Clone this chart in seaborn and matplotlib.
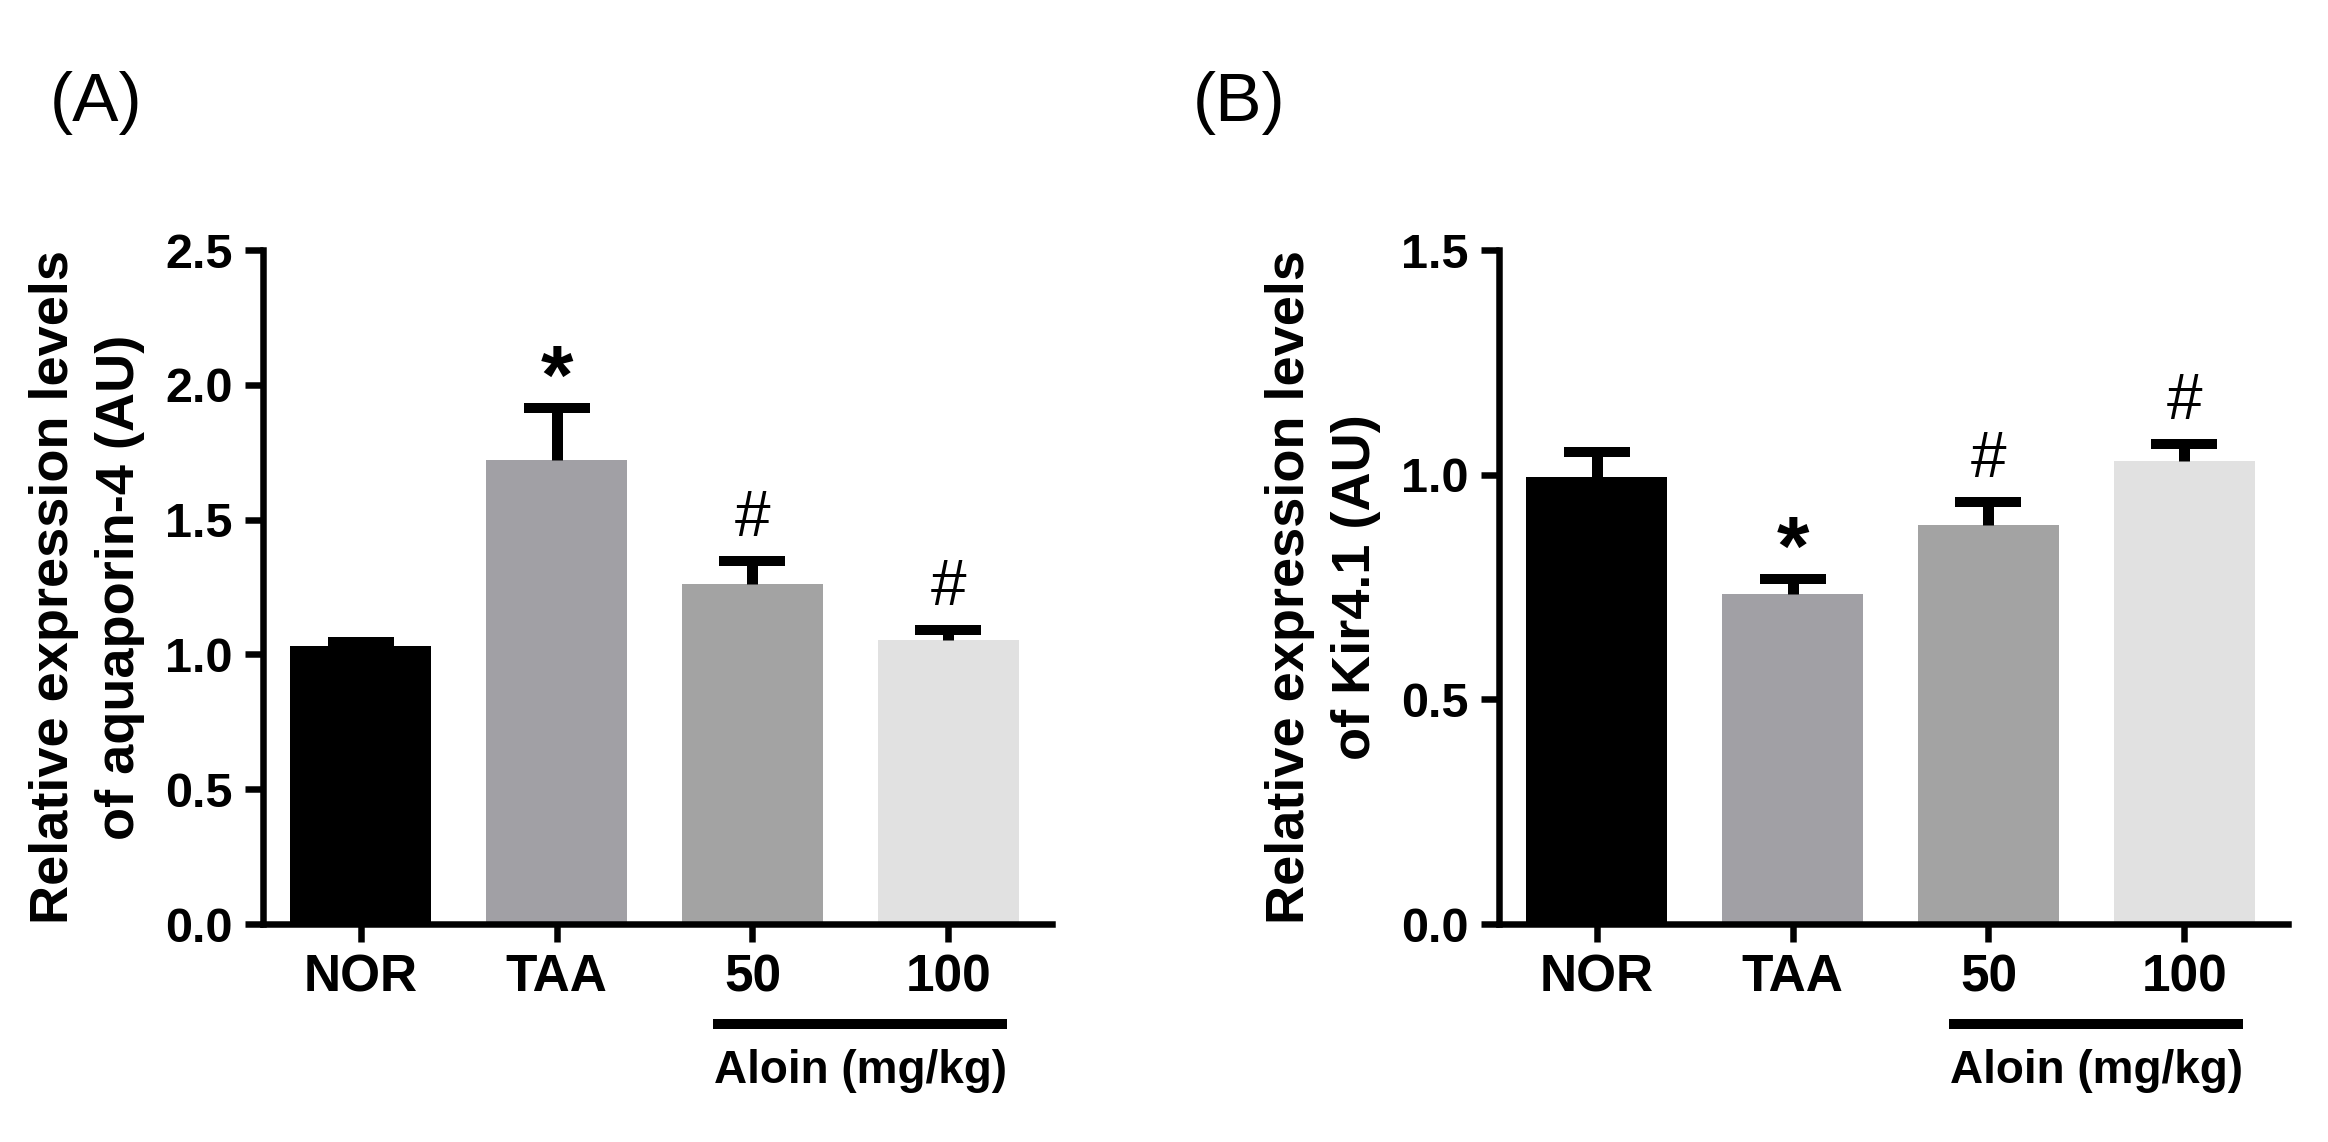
import numpy as np
import pandas as pd
import matplotlib
matplotlib.use("Agg")
import matplotlib.pyplot as plt
import matplotlib.transforms as mtransforms
from matplotlib.ticker import FormatStrFormatter, MultipleLocator
import seaborn as sns

# ---------------- data ----------------
groups = ["NOR", "TAA", "50", "100"]
aqp4_mean = [1.03, 1.72, 1.26, 1.055]
aqp4_sem = [0.015, 0.195, 0.085, 0.035]
aqp4_marks = ["", "*", "#", "#"]

kir41_mean = [0.995, 0.735, 0.889, 1.030]
kir41_sem = [0.055, 0.032, 0.050, 0.038]
kir41_marks = ["", "*", "#", "#"]

bar_colors = ["#000000", "#A1A0A5", "#A3A3A3", "#E1E1E1"]
ylabel_A = "Relative expression levels\nof aquaporin-4 (AU)"
ylabel_B = "Relative expression levels\nof Kir4.1 (AU)"
dose_label = "Aloin (mg/kg)"
panel_labels = ["(A)", "(B)"]

# ---------------- style ----------------
sns.set_style("ticks")
plt.rcParams["font.family"] = ["Liberation Sans", "DejaVu Sans"]
plt.rcParams["axes.edgecolor"] = "black"
plt.rcParams["xtick.color"] = "black"
plt.rcParams["ytick.color"] = "black"
plt.rcParams["text.color"] = "black"
plt.rcParams["axes.labelcolor"] = "black"

W, H = 2328, 1142
fig = plt.figure(figsize=(W / 100, H / 100), dpi=100)

PX = 72 / 100  # points per pixel


def panel(left_px, means, sems, marks, ylabel, ymax, plabel, plabel_x):
    ax = fig.add_axes([left_px / W, 1 - 924 / H, 789 / W, (924 - 250) / H])
    df = pd.DataFrame({"group": groups, "value": means})
    sns.barplot(data=df, x="group", y="value", hue="group", palette=bar_colors,
                order=groups, hue_order=groups, legend=False, width=0.72,
                saturation=1, linewidth=0, ax=ax, zorder=2)
    low = np.zeros(len(means))
    eb = ax.errorbar(np.arange(len(means)), means, yerr=[low, sems], fmt="none",
                     ecolor="black", elinewidth=11 * PX, capsize=33 * PX,
                     capthick=10 * PX, zorder=3)
    # only the upper cap is drawn (one-sided SEM bars)
    eb.lines[1][0].set_visible(False)
    for i, (m, s, mk) in enumerate(zip(means, sems, marks)):
        if not mk:
            continue
        if mk == "*":
            ax.annotate(mk, xy=(i, m + s), xytext=(0, 3), textcoords="offset points",
                        ha="center", va="baseline", fontsize=60, fontweight="bold")
        else:
            ax.annotate(mk, xy=(i, m + s), xytext=(0, 18), textcoords="offset points",
                        ha="center", va="baseline", fontsize=46)
    ax.set_xlim(-0.5, 3.53)
    ax.set_ylim(0, ymax)
    ax.yaxis.set_major_locator(MultipleLocator(0.5))
    ax.yaxis.set_major_formatter(FormatStrFormatter("%.1f"))
    sns.despine(ax=ax)
    for sp in ["left", "bottom"]:
        ax.spines[sp].set_linewidth(6.5 * PX)
        ax.spines[sp].set_color("black")
    ax.tick_params(axis="both", width=6.5 * PX, length=18 * PX, color="black",
                   labelcolor="black")
    ax.tick_params(axis="y", labelsize=35, pad=9)
    ax.tick_params(axis="x", labelsize=37, pad=8)
    for t in ax.get_xticklabels() + ax.get_yticklabels():
        t.set_fontweight("bold")
    ax.set_xlabel("")
    ax.set_ylabel(ylabel, fontsize=39, fontweight="bold", linespacing=1.4)
    ax.yaxis.set_label_coords((145 - 263) / 789, 0.5)
    # dose group underline and label
    trans = mtransforms.blended_transform_factory(ax.transData, ax.transAxes)
    ax.plot([2 - 0.2, 3 + 0.3], [-0.148, -0.148], transform=trans, color="black",
            lw=10 * PX, clip_on=False, solid_capstyle="butt")
    ax.text(2.55, -0.236, dose_label, transform=trans, ha="center", va="baseline",
            fontsize=33, fontweight="bold")
    fig.text(plabel_x / W, 1 - 121 / H, plabel, fontsize=50, ha="left", va="baseline")
    return ax


panel(263, aqp4_mean, aqp4_sem, aqp4_marks, ylabel_A, 2.5, panel_labels[0], 50)
panel(1499, kir41_mean, kir41_sem, kir41_marks, ylabel_B, 1.5, panel_labels[1], 1193)

fig.savefig("out.png", dpi=100, facecolor="white")
